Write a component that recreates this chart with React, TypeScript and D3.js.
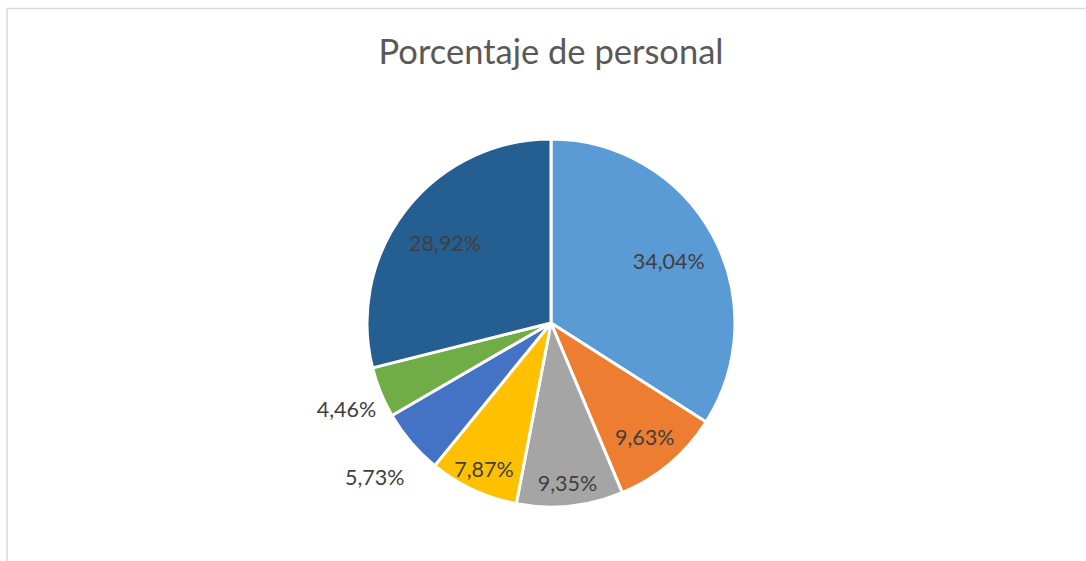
import React from "react";
import * as d3 from "d3";

const categories = ["A", "B", "C", "D", "E", "F", "G"];
const values = [34.04, 9.63, 9.35, 7.87, 5.73, 4.46, 28.92];
const labels = ["34,04%", "9,63%", "9,35%", "7,87%", "5,73%", "4,46%", "28,92%"];
const colors = ["#5B9BD5", "#ED7D31", "#A5A5A5", "#FFC000", "#4472C4", "#70AD47", "#255E91"];
// label placement radius as fraction of pie radius (Excel "best fit")
const labelRadiusFactor = [0.73, 0.79, 0.86, 0.86, 1.26, 1.2, 0.73];

const W = 1086;
const H = 561;

export default function App() {
  const cx = 551;
  const cy = 323;
  const R = 184;
  const pie = d3.pie<number>().sort(null).value((d) => d);
  const arcs = pie(values);
  const arc = d3.arc<d3.PieArcDatum<number>>().innerRadius(0).outerRadius(R);
  return (
    <svg
      width={W}
      height={H}
      style={{ position: "absolute", left: 0, top: 0, display: "block", background: "#fff" }}
    >
      <rect x={7} y={8.5} width={1200} height={700} fill="#fff" stroke="#D9D9D9" strokeWidth={1.5} />
      <text
        x={551}
        y={64}
        textAnchor="middle"
        fontFamily="Lato, 'Open Sans', sans-serif"
        fontSize={34.5}
        fill="#595959"
      >
        Porcentaje de personal
      </text>
      <g transform={`translate(${cx},${cy})`}>
        {arcs.map((a, i) => (
          <path key={categories[i]} d={arc(a) || ""} fill={colors[i]} stroke="#fff" strokeWidth={3} strokeLinejoin="round" />
        ))}
        {arcs.map((a, i) => {
          const mid = (a.startAngle + a.endAngle) / 2;
          const r = R * labelRadiusFactor[i];
          const x = Math.sin(mid) * r;
          const y = -Math.cos(mid) * r + 3;
          return (
            <text
              key={"l" + i}
              x={x}
              y={y}
              textAnchor="middle"
              dominantBaseline="central"
              fontFamily="Lato, 'Open Sans', sans-serif"
              fontSize={21.5}
              fill="#404040"
            >
              {labels[i]}
            </text>
          );
        })}
      </g>
    </svg>
  );
}
